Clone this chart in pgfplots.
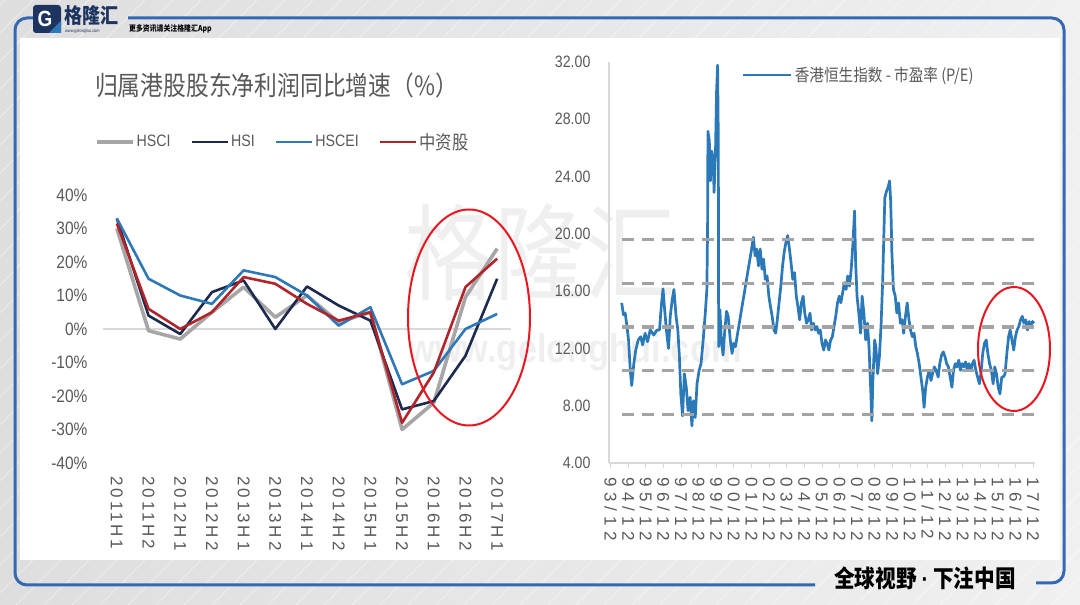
\documentclass[border=0pt]{standalone}
\usepackage{fontspec}
\setmainfont{Liberation Sans}[FakeStretch=0.86]
\newfontfamily\cjk{Noto Sans CJK SC}[FakeStretch=0.86]
\newfontfamily\rotL{Liberation Sans}[LetterSpace=17]
\newfontfamily\rotR{Liberation Sans}[LetterSpace=30]
\usepackage{pgfplots}
\pgfplotsset{compat=1.18}
\definecolor{bgA}{HTML}{DEDEDE}
\definecolor{bgB}{HTML}{F0F0F0}
\definecolor{framebl}{HTML}{3568B2}
\definecolor{navy}{HTML}{1D3461}
\definecolor{txtgray}{HTML}{595959}
\definecolor{hscigray}{HTML}{A6A6A6}
\definecolor{hsinavy}{HTML}{1B2A4E}
\definecolor{hsceiblue}{HTML}{2E78B7}
\definecolor{zzred}{HTML}{B0242A}
\definecolor{peblue}{HTML}{2B79B9}
\definecolor{dashgray}{HTML}{A3A3A3}
\definecolor{axgray}{HTML}{D9D9D9}
\definecolor{ellred}{HTML}{E8171F}

% half-year net profit growth, %
\pgfplotstableread{
idx hsci hsi hscei zz
0   30   33   33   31.5
1  -0.5   4   15    6
2  -3   -1.5  10    0
3   5    11   7.5   5
4   12.5 14.5 17.5 15.5
5   3.5  0    15.5 13.5
6   10   12.7 10    7.5
7   2    7    1     2.5
8   5    2.5  6.5   5
9  -30  -24  -16.5 -28
10 -22  -21.5 -12.5 -13
11  9.5 -8    0    12.5
12  24   15   4.5  21
}\growth

\begin{document}
\begin{tikzpicture}[x=1pt,y=1pt]
\useasboundingbox (0,0) rectangle (1080,605);
\shade[left color=bgA,right color=bgB] (0,0) rectangle (1080,605);
\begin{scope}
  \clip (0,0) rectangle (1080,605);
  \foreach \i in {-600,-572,...,1080}
    \draw[white,opacity=0.6,line width=0.7pt] (\i,0) -- (\i+605,605);
\end{scope}
\fill[white] (20,45) rectangle (1060,567);

% frame
\draw[framebl,line width=3pt,rounded corners=12pt] (128,587) -- (1064,587) -- (1064,22) -- (1036,22);
\draw[framebl,line width=3pt,rounded corners=12pt] (36,587) -- (15,587) -- (15,20) -- (815,20);

% header
\fill[navy,rounded corners=3pt] (33,572) rectangle (61,600);
\fill[hsceiblue] (49,572) -- (61,572) -- (61,584) -- cycle;
\node[white,font=\bfseries\fontsize{22}{22}\selectfont] at (45,586) {G};
\node[anchor=west,navy,inner sep=0pt,font=\cjk\bfseries\fontsize{21}{21}\selectfont] at (64,589) {格隆汇};
\node[anchor=west,navy,inner sep=0pt,font=\fontsize{4.5}{4.5}\selectfont] at (65,574) {www.gelonghui.com};
\node[anchor=west,black,inner sep=0pt,font=\cjk\bfseries\fontsize{8}{8}\selectfont] at (129,576) {更多资讯请关注格隆汇App};

% footer
\node[black,inner sep=0pt,font=\cjk\bfseries\fontsize{24}{24}\selectfont] at (925,27) {全球视野 {\rmfamily\bfseries ·} 下注中国};

% watermark
\node[gray,opacity=0.12,font=\cjk\fontsize{105}{105}\selectfont] at (540,352) {格隆汇};
\node[gray,opacity=0.12,font=\bfseries\fontsize{40}{40}\selectfont] at (575,253) {www.gelonghui.com};

% left title
\node[anchor=west,txtgray,inner sep=0pt,font=\cjk\fontsize{26.5}{26.5}\selectfont] at (95,520) {归属港股股东净利润同比增速（\%）};

\begin{axis}[
  at={(101pt,142pt)},anchor=south west,scale only axis,
  width=412pt,height=268pt,
  xmin=-0.5,xmax=12.5,ymin=-40,ymax=40,
  axis line style={draw=none},major tick length=0pt,
  xtick={0,...,12},
  xticklabels={2011H1,2011H2,2012H1,2012H2,2013H1,2013H2,2014H1,2014H2,2015H1,2015H2,2016H1,2016H2,2017H1},
  ytick={-40,-30,...,40},
  yticklabels={-40\%,-30\%,-20\%,-10\%,0\%,10\%,20\%,30\%,40\%},
  yticklabel style={font=\fontsize{18}{18}\selectfont,text=txtgray,xshift=-10pt},
  xticklabel style={font=\rotL\fontsize{17}{17}\selectfont,text=txtgray,yshift=-10pt,rotate=-90,anchor=west},
  legend columns=4,
  legend style={at={(-0.015,1.198)},anchor=west,draw=none,fill=none,inner sep=0pt,
    font=\fontsize{16.5}{16.5}\selectfont,text=txtgray,
    /tikz/every even column/.append style={column sep=18pt}},
  legend image code/.code={\draw[#1] (0pt,0pt) -- (36pt,0pt);},
]
\draw[axgray,line width=2pt] (axis cs:-0.45,0) -- (axis cs:12.45,0);
\addplot[hscigray,line width=3.6pt,line join=round] table[x=idx,y=hsci] {\growth};
\addlegendentry{HSCI}
\addplot[hsinavy,line width=2.6pt,line join=round] table[x=idx,y=hsi] {\growth};
\addlegendentry{HSI}
\addplot[hsceiblue,line width=2.6pt,line join=round] table[x=idx,y=hscei] {\growth};
\addlegendentry{HSCEI}
\addplot[zzred,line width=2.6pt,line join=round] table[x=idx,y=zz] {\growth};
\addlegendentry{\cjk\fontsize{19}{19}\selectfont 中资股}
\end{axis}

\begin{axis}[
  at={(609pt,142pt)},anchor=south west,scale only axis,
  width=426pt,height=401pt,
  xmin=1993.82,xmax=2018.02,ymin=4,ymax=32,
  axis x line*=bottom,axis y line*=left,
  axis line style={draw=axgray,line width=1.4pt},
  xtick={1993.92,1994.92,1995.92,1996.92,1997.92,1998.92,1999.92,2000.92,2001.92,2002.92,2003.92,2004.92,2005.92,2006.92,2007.92,2008.92,2009.92,2010.92,2011.92,2012.92,2013.92,2014.92,2015.92,2016.92,2017.92},
  xticklabels={93/12,94/12,95/12,96/12,97/12,98/12,99/12,00/12,01/12,02/12,03/12,04/12,05/12,06/12,07/12,08/12,09/12,10/12,11/12,12/12,13/12,14/12,15/12,16/12,17/12},
  ytick={4,8,...,32},
  tick align=outside,major tick length=5pt,
  xtick style={draw=axgray,line width=1pt},
  ytick style={draw=none},
  yticklabel style={font=\fontsize{16.5}{16.5}\selectfont,text=txtgray,xshift=-10pt,
    /pgf/number format/.cd,fixed,fixed zerofill,precision=2,assume math mode=true},
  xticklabel style={font=\rotR\fontsize{17}{17}\selectfont,text=txtgray,yshift=-6pt,rotate=-90,anchor=west},
  legend style={at={(0.312,0.9676)},anchor=west,draw=none,fill=none,inner sep=0pt,
    font=\cjk\fontsize{17}{17}\selectfont,text=txtgray},
  legend image code/.code={\draw[#1] (0pt,0pt) -- (48pt,0pt);},
]
\addplot[peblue,line width=2.7pt,line join=round] coordinates {
(1994.54,15.18)(1994.64,14.35)(1994.74,14.47)(1994.84,13.53)(1994.93,12.59)(1995.03,10.47)(1995.11,9.41)(1995.23,10.94)(1995.34,11.88)(1995.48,12.59)(1995.62,12.82)(1995.73,12.24)(1995.87,13.06)(1996.01,12.47)(1996.16,13.29)(1996.36,12.94)(1996.55,13.29)(1996.69,13.29)(1996.79,14.94)(1996.89,16.16)(1996.98,14.71)(1997.08,13.29)(1997.20,12.0)(1997.30,14.24)(1997.41,15.41)(1997.51,16.12)(1997.63,14.24)(1997.73,13.29)(1997.82,11.41)(1997.90,8.82)(1998.00,7.29)(1998.10,10.24)(1998.21,9.29)(1998.31,7.65)(1998.43,8.59)(1998.53,6.59)(1998.62,8.35)(1998.72,7.18)(1998.82,9.53)(1998.94,10.47)(1999.05,10.94)(1999.17,12.59)(1999.29,14.47)(1999.38,16.12)(1999.42,20.46)(1999.44,27.16)(1999.52,26.47)(1999.58,23.7)(1999.66,25.77)(1999.73,25.3)(1999.79,22.89)(1999.87,25.77)(1999.93,29.93)(1999.99,31.78)(2000.03,26.47)(2000.05,12.12)
(2000.12,14.71)(2000.20,12.59)(2000.30,11.53)(2000.40,13.29)(2000.50,14.59)(2000.59,14.24)(2000.71,12.59)(2000.81,11.65)(2000.91,12.35)(2001.00,12.12)(2001.92,18.94)(2002.02,19.76)(2002.12,18.47)(2002.21,18.94)(2002.31,17.76)(2002.41,18.94)(2002.51,17.53)(2002.60,18.24)(2002.70,16.82)(2002.80,17.06)(2002.90,15.65)(2002.99,14.94)(2003.09,14.24)(2003.19,13.29)(2003.29,13.06)(2003.38,14.0)(2003.48,15.18)(2003.58,16.35)(2003.68,17.76)(2003.77,18.71)(2003.87,19.41)(2003.97,19.88)(2004.07,18.94)(2004.16,18.0)(2004.26,16.82)(2004.36,17.29)(2004.46,15.65)(2004.55,14.94)(2004.65,14.0)(2004.75,15.18)(2004.85,15.65)(2004.94,14.47)(2005.04,13.76)(2005.14,14.0)(2005.24,14.47)(2005.33,13.29)(2005.43,13.76)(2005.53,13.29)(2005.63,13.53)(2005.72,13.06)(2005.82,13.29)(2005.92,12.35)
(2006.02,11.88)(2006.12,12.59)(2006.21,12.35)(2006.31,11.88)(2006.41,12.59)(2006.51,12.82)(2006.60,13.53)(2006.70,14.24)(2006.80,15.18)(2006.90,15.65)(2006.99,15.18)(2007.09,15.88)(2007.19,16.59)(2007.29,16.12)(2007.38,17.06)(2007.48,16.35)(2007.58,17.53)(2007.68,19.41)(2007.77,21.6)(2007.83,18.0)(2007.91,15.65)(2008.01,14.47)(2008.11,13.06)(2008.20,15.65)(2008.30,14.47)(2008.40,12.59)(2008.50,13.76)(2008.59,12.12)(2008.69,9.06)(2008.75,6.94)(2008.81,9.76)(2008.91,12.59)(2008.98,12.12)(2009.08,10.24)(2009.18,11.41)(2009.28,13.76)(2009.37,16.82)(2009.43,19.77)(2009.49,22.54)(2009.59,23.0)(2009.67,23.23)(2009.76,23.7)(2009.82,22.3)(2009.86,20.46)(2009.88,18.94)(2009.98,16.12)
(2010.08,15.65)(2010.17,14.47)(2010.27,15.18)(2010.37,13.76)(2010.47,14.0)(2010.56,13.06)(2010.66,14.24)(2010.76,15.18)(2010.86,14.0)(2010.95,13.29)(2011.05,12.82)(2011.15,13.06)(2011.25,12.12)(2011.34,11.65)(2011.44,10.94)(2011.54,10.0)(2011.64,9.06)(2011.72,7.88)(2011.81,9.29)(2011.91,10.0)(2012.01,10.47)(2012.11,9.76)(2012.20,10.24)(2012.30,10.71)(2012.40,10.47)(2012.52,10.0)(2012.61,10.94)(2012.71,11.53)(2012.81,11.76)(2012.91,11.41)(2013.00,10.94)(2013.10,10.71)(2013.20,10.0)(2013.30,9.29)(2013.39,10.47)(2013.49,10.94)(2013.59,10.71)(2013.69,11.18)(2013.78,10.47)(2013.88,10.94)(2013.98,10.71)
(2014.08,11.06)(2014.17,10.47)(2014.27,10.94)(2014.37,10.47)(2014.47,10.94)(2014.56,11.18)(2014.66,10.47)(2014.76,10.0)(2014.86,9.53)(2014.95,10.24)(2015.05,11.65)(2015.15,12.35)(2015.25,12.59)(2015.34,11.65)(2015.44,10.94)(2015.54,10.47)(2015.64,9.53)(2015.73,10.71)(2015.83,10.24)(2015.93,9.29)(2016.03,8.82)(2016.13,10.0)(2016.22,10.0)(2016.32,10.24)(2016.42,11.65)(2016.52,12.82)(2016.61,13.29)(2016.71,12.59)(2016.81,11.88)(2016.91,12.82)(2017.00,13.29)(2017.10,13.53)(2017.20,14.0)(2017.30,14.24)(2017.39,13.76)(2017.49,14.0)(2017.59,13.29)(2017.69,13.88)(2017.78,13.53)(2017.88,13.88)(2017.96,13.76)
};
\addlegendentry{香港恒生指数 - 市盈率 (P/E)}
\addplot[dashgray,line width=3.5pt,dash pattern=on 12pt off 8pt,forget plot] coordinates {(1994.54,19.6)(2017.96,19.6)};
\addplot[dashgray,line width=3.5pt,dash pattern=on 12pt off 8pt,forget plot] coordinates {(1994.54,16.55)(2017.96,16.55)};
\addplot[dashgray,line width=3.5pt,dash pattern=on 12pt off 8pt,forget plot] coordinates {(1994.54,13.5)(2017.96,13.5)};
\addplot[dashgray,line width=3.5pt,dash pattern=on 12pt off 8pt,forget plot] coordinates {(1994.54,10.45)(2017.96,10.45)};
\addplot[dashgray,line width=3.5pt,dash pattern=on 12pt off 8pt,forget plot] coordinates {(1994.54,7.4)(2017.96,7.4)};
\end{axis}

% highlight ellipses
\draw[ellred,line width=2pt] (469,287.5) ellipse [x radius=61,y radius=108];
\draw[ellred,line width=2pt] (1014,256) ellipse [x radius=36,y radius=62];
\end{tikzpicture}
\end{document}
